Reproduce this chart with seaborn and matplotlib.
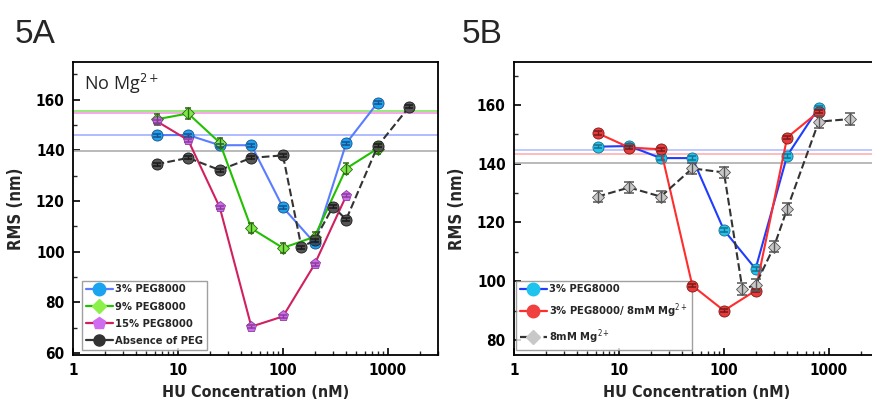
import numpy as np
import pandas as pd
import seaborn as sns
import matplotlib
matplotlib.use("Agg")
import matplotlib.pyplot as plt
from matplotlib.ticker import LogLocator, FixedLocator, NullFormatter, FuncFormatter
from matplotlib.lines import Line2D

sns.set_theme(style="white")
plt.rcParams["font.family"] = ["DejaVu Sans"]
plt.rcParams["font.stretch"] = "condensed"

# ---------------- data ----------------
hu = [6.25, 12.5, 25, 50, 100, 200, 400, 800]
a_peg3 = [146, 146, 142, 142, 117.5, 103.5, 142.7, 158.8]
a_peg9 = [152.2, 154.5, 143, 109.2, 101.5, 105.9, 132.8, 140.7]
hu15 = [6.25, 12.5, 25, 50, 100, 200, 400]
a_peg15 = [151.5, 144, 117.5, 70.5, 74.5, 95, 122]
hu_nopeg = [6.25, 12.5, 25, 50, 100, 150, 200, 300, 400, 800, 1600]
a_nopeg = [134.5, 137, 132.2, 137, 138, 101.8, 104.5, 117.8, 112.7, 141.7, 157.2]
a_hlines = [155.5, 154.8, 146, 139.8]

b_peg3 = [145.8, 146, 141.9, 141.9, 117.4, 104.2, 142.7, 159.1]
b_peg3mg = [150.4, 145.5, 144.9, 98.5, 90, 96.8, 148.9, 157.7]
b_mg = [128.8, 131.9, 128.8, 138.4, 137, 97.3, 98.7, 111.8, 124.6, 154.3, 155.2]
b_hlines = [144.7, 143.2, 140.1]

labels_a = ["3% PEG8000", "9% PEG8000", "15% PEG8000", "Absence of PEG"]
labels_b = ["3% PEG8000", "3% PEG8000/ 8mM Mg$^{2+}$", "8mM Mg$^{2+}$"]

fig = plt.figure(figsize=(8.72, 4.07), dpi=100)
W, H = 872, 407
axA = fig.add_axes([73 / W, 1 - 355 / H, 365 / W, 293 / H])
axB = fig.add_axes([514 / W, 1 - 355 / H, 365 / W, 293 / H])


def series(ax, x, y, line, face, edge, marker, ms, ls="-", yerr=0.6, cap=3):
    df = pd.DataFrame({"x": x, "y": y})
    sns.lineplot(data=df, x="x", y="y", ax=ax, color=line, linestyle=ls, lw=1.5,
                 marker=marker, markersize=ms, markerfacecolor=face,
                 markeredgecolor=edge, markeredgewidth=0.6, zorder=3,
                 dashes=(6, 4) if ls == "--" else None, legend=False)
    ax.errorbar(x, y, yerr=yerr, fmt="none", ecolor=edge, elinewidth=1.0,
                capsize=cap, capthick=1.1, zorder=4)


# Panel A
for v, c in zip(a_hlines, ["#8fe870", "#f7a0e8", "#a9b6ff", "#b4b4b4"]):
    axA.axhline(v, color=c, lw=1.3, zorder=1)
series(axA, hu, a_peg3, "#5a7cff", "#1aa3ee", "#1d4e8a", "o", 8)
series(axA, hu, a_peg9, "#22c000", "#7ee84a", "#2c6a10", "D", 6.5, yerr=2.0, cap=2.5)
series(axA, hu15, a_peg15, "#d12060", "#cf6cf0", "#8a3c9a", "p", 8)
series(axA, hu_nopeg, a_nopeg, "#333333", "#555555", "#1a1a1a", "o", 8, ls="--")

# Panel B
for v, c in zip(b_hlines, ["#b9c4ff", "#ffb8b8", "#b4b4b4"]):
    axB.axhline(v, color=c, lw=1.3, zorder=1)
series(axB, hu, b_peg3, "#1f3cff", "#1ec3ee", "#1d6e8a", "o", 8)
series(axB, hu, b_peg3mg, "#ff2d2d", "#e83a3a", "#7a1a1a", "o", 8)
series(axB, hu_nopeg, b_mg, "#333333", "#c8c8c8", "#555555", "D", 6.5, ls="--", yerr=2.0, cap=3.5)


def legend(ax, specs, labels, loc_xy):
    handles = []
    for (line, face, mk, ms, ls) in specs:
        handles.append(Line2D([], [], color=line, ls=ls, lw=1.6, marker=mk, markersize=ms,
                              markerfacecolor=face, markeredgecolor=face))
    leg = ax.legend(handles, labels, loc="lower left", bbox_to_anchor=loc_xy,
                    frameon=True, fancybox=False, borderpad=0.35, labelspacing=0.65,
                    handlelength=2.4, handletextpad=0.2, borderaxespad=0,
                    prop={"weight": "bold", "size": 8, "stretch": "condensed"})
    leg.get_frame().set_edgecolor("#888888")
    leg.get_frame().set_linewidth(1.0)
    leg.set_zorder(2)


legend(axA, [("#5a7cff", "#1aa3ee", "o", 9, "-"),
             ("#22c000", "#8bf04a", "D", 7, "-"),
             ("#d12060", "#cf6cf0", "p", 9, "-"),
             ("#333333", "#333333", "o", 8, "-")], labels_a, (9 / 365, 5 / 293))
legend(axB, [("#1f3cff", "#1ec3ee", "o", 9, "-"),
             ("#ff2d2d", "#f04040", "o", 9, "-"),
             ("#333333", "#c8c8c8", "D", 7, "--")], labels_b, (2 / 365, 5 / 293))

for ax, ylim, maj in [(axA, (59.3, 174.8), np.arange(60, 161, 20)),
                      (axB, (74.9, 174.6), np.arange(80, 161, 20))]:
    ax.set_xscale("log")
    ax.set_xlim(1, 3000)
    ax.set_ylim(*ylim)
    ax.xaxis.set_major_locator(FixedLocator([1, 10, 100, 1000]))
    ax.xaxis.set_major_formatter(FuncFormatter(lambda v, p: f"{int(round(v))}"))
    ax.xaxis.set_minor_locator(LogLocator(base=10, subs=np.arange(2, 10)))
    ax.xaxis.set_minor_formatter(NullFormatter())
    ax.yaxis.set_major_locator(FixedLocator(maj))
    ax.yaxis.set_minor_locator(FixedLocator(np.arange(maj[0] - 10, 180, 20)))
    ax.tick_params(axis="both", which="major", direction="in", length=5, width=1.2,
                   labelsize=11, colors="black", bottom=True, left=True, top=False, right=False,
                   pad=6)
    ax.tick_params(axis="both", which="minor", direction="in", length=3, width=1.0,
                   bottom=True, left=True, top=False, right=False)
    for lab in ax.get_xticklabels() + ax.get_yticklabels():
        lab.set_fontweight("bold")
    for s in ax.spines.values():
        s.set_color("black")
        s.set_linewidth(1.3)
        s.set_visible(True)
    ax.set_xlabel("HU Concentration (nM)", fontsize=11.5, fontweight="bold", labelpad=5)
    ax.set_ylabel("RMS (nm)", fontsize=12, fontweight="bold", labelpad=8)
    ax.grid(False)

axA.text(0.03, 0.965, "No Mg$^{2+}$", transform=axA.transAxes, ha="left", va="top",
         fontsize=13, family=["Open Sans", "DejaVu Sans"], stretch="normal")
fig.text(15 / W, 1 - 43 / H, "5A", fontsize=24, ha="left", va="baseline",
         family=["Liberation Sans", "DejaVu Sans"], stretch="normal")
fig.text(462 / W, 1 - 43 / H, "5B", fontsize=24, ha="left", va="baseline",
         family=["Liberation Sans", "DejaVu Sans"], stretch="normal")

fig.savefig("out.png", dpi=100)
